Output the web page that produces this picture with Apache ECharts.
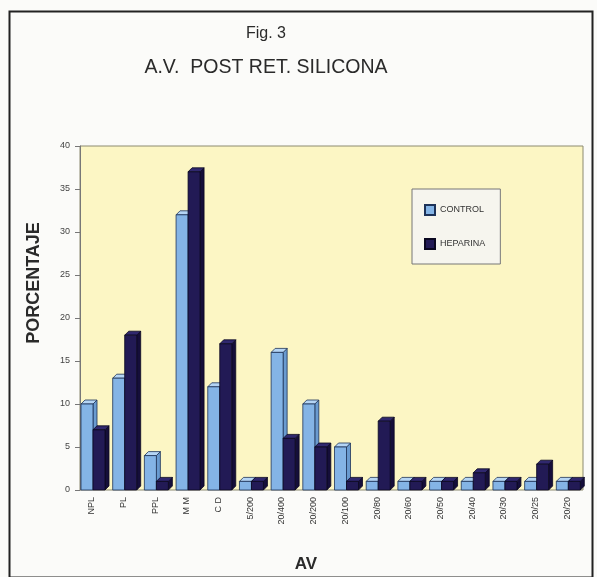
<!DOCTYPE html>
<html>
<head>
<meta charset="utf-8">
<script src="https://cdn.jsdelivr.net/npm/echarts@6/dist/echarts.min.js"></script>
<style>
  html, body { margin: 0; padding: 0; background: #fbfbf9; }
  #chart { width: 597px; height: 577px; }
</style>
</head>
<body>
<div id="chart"></div>
<script>
// Visual acuity categories and percentages per group
const categories = ['NPL', 'PL', 'PPL', 'M M', 'C D', '5/200', '20/400', '20/200',
  '20/100', '20/80', '20/60', '20/50', '20/40', '20/30', '20/25', '20/20'];
const control  = [10, 13, 4, 32, 12, 1, 16, 10, 5, 1, 1, 1, 1, 1, 1, 1];
const heparina = [7, 18, 1, 37, 17, 1, 6, 5, 1, 8, 1, 1, 2, 1, 3, 1];
const yTicks = [0, 5, 10, 15, 20, 25, 30, 35, 40];

const FONT = '"Liberation Sans", Arial, sans-serif';
const BAR_W = 12;     // front face width
const DEPTH = 4;      // pseudo-3D depth offset
const PAD = 5;        // gap from band start to first bar

// Draws a box-like bar: front face, top face and right side face
function box3d(slot, faces) {
  return function (params, api) {
    const idx = api.value(0);
    const val = api.value(1);
    const band = api.size([1, 0])[0];
    const base = api.coord([idx, 0]);
    const top = api.coord([idx, val]);
    const x0 = base[0] - band / 2 + PAD + slot * BAR_W;
    const x1 = x0 + BAR_W;
    const yb = base[1];
    const yt = top[1];
    const d = DEPTH;
    const stroke = { stroke: faces.line, lineWidth: 0.8 };
    return {
      type: 'group',
      children: [
        { type: 'polygon', shape: { points: [[x1, yt], [x1 + d, yt - d], [x1 + d, yb - d], [x1, yb]] },
          style: Object.assign({ fill: faces.side }, stroke) },
        { type: 'polygon', shape: { points: [[x0, yt], [x0 + d, yt - d], [x1 + d, yt - d], [x1, yt]] },
          style: Object.assign({ fill: faces.top }, stroke) },
        { type: 'rect', shape: { x: x0, y: yt, width: BAR_W, height: yb - yt },
          style: Object.assign({ fill: faces.front }, stroke) }
      ]
    };
  };
}

const controlFaces = { front: '#84b4e6', top: '#b5d5f5', side: '#6a9bd0', line: '#1d3258' };
const heparinaFaces = { front: '#221a55', top: '#30286e', side: '#150e3a', line: '#0a0720' };

const chart = echarts.init(document.getElementById('chart'));
chart.setOption({
  backgroundColor: '#fbfbf9',
  animation: false,
  textStyle: { fontFamily: FONT },
  title: [
    { text: 'Fig. 3', left: 266, top: 26, textAlign: 'center', padding: 0,
      textStyle: { fontFamily: FONT, fontSize: 16, fontWeight: 'normal', color: '#2a2a2a' } },
    { text: 'A.V.  POST RET. SILICONA', left: 266, top: 58, textAlign: 'center', padding: 0,
      textStyle: { fontFamily: FONT, fontSize: 19.5, fontWeight: 'normal', color: '#2a2a2a' } }
  ],
  legend: {
    orient: 'vertical',
    left: 412, top: 189,
    padding: [15, 15, 14, 12],
    itemGap: 22,
    itemWidth: 10, itemHeight: 10,
    icon: 'rect',
    backgroundColor: '#f6f5ee',
    borderColor: '#777', borderWidth: 1,
    textStyle: { fontFamily: FONT, fontSize: 9, color: '#333' },
    data: ['CONTROL', 'HEPARINA']
  },
  graphic: [
    { type: 'rect', left: 7, top: 9, shape: { width: 583, height: 566 },
      style: { fill: 'none', stroke: '#222', lineWidth: 2 }, silent: true }
  ],
  grid: [
    { left: 76, right: 14, top: 146, bottom: 87, outerBoundsMode: 'none', containLabel: false },
    { left: 80, right: 14, top: 146, bottom: 87, outerBoundsMode: 'none', containLabel: false, show: true,
      backgroundColor: '#fcf6c4', borderColor: '#8c8a70', borderWidth: 1, z: 0 }
  ],
  xAxis: [
    { type: 'category', gridIndex: 0, data: categories, boundaryGap: true,
      axisLine: { show: false },
      axisTick: { alignWithLabel: true, length: 5, lineStyle: { color: '#555' } },
      axisLabel: { rotate: 90, fontSize: 9, margin: 7, color: '#333', interval: 0 },
      name: 'AV', nameLocation: 'middle', nameGap: 66,
      nameTextStyle: { fontSize: 17, fontWeight: 'bold', color: '#2a2a2a', padding: [0, 47, 0, 0] } },
    { type: 'category', gridIndex: 1, data: categories, show: false }
  ],
  yAxis: [
    { type: 'value', gridIndex: 0, min: 0, max: 40, interval: 5, show: false },
    { type: 'value', gridIndex: 1, min: 0, max: 40, interval: 5,
      axisLine: { show: true, lineStyle: { color: '#777' } },
      axisTick: { show: true, length: 5, lineStyle: { color: '#777' } },
      splitLine: { show: false },
      axisLabel: { fontSize: 9, color: '#444', margin: 10,
        customValues: yTicks },
      name: 'PORCENTAJE', nameLocation: 'middle', nameGap: 37, nameRotate: 90,
      nameTextStyle: { fontSize: 18, fontWeight: 'bold', color: '#2a2a2a', padding: [0, 0, 0, 70] } }
  ],
  series: [
    { name: 'CONTROL', type: 'custom', xAxisIndex: 0, yAxisIndex: 0,
      renderItem: box3d(0, controlFaces),
      itemStyle: { color: controlFaces.front, borderColor: controlFaces.line, borderWidth: 0.8 },
      encode: { x: 0, y: 1 },
      data: control.map((v, i) => [i, v]), z: 3 },
    { name: 'HEPARINA', type: 'custom', xAxisIndex: 0, yAxisIndex: 0,
      renderItem: box3d(1, heparinaFaces),
      itemStyle: { color: heparinaFaces.front, borderColor: heparinaFaces.line, borderWidth: 0.8 },
      encode: { x: 0, y: 1 },
      data: heparina.map((v, i) => [i, v]), z: 4 }
  ]
});
</script>
</body>
</html>
